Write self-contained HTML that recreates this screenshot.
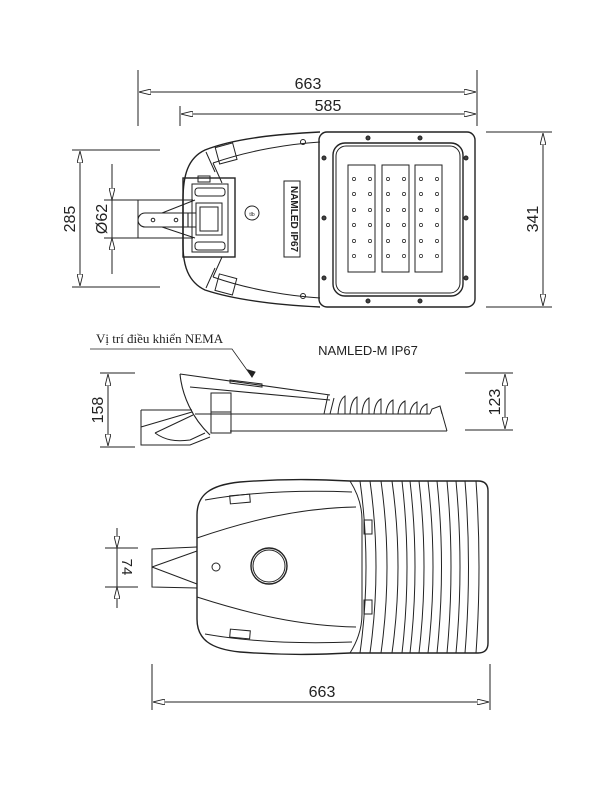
<!DOCTYPE html>
<html><head><meta charset="utf-8"><style>
html,body{margin:0;padding:0;background:#fff;}
svg{display:block;}
text{font-family:"Liberation Sans",sans-serif;fill:#222;}
</style></head><body>
<svg width="600" height="800" viewBox="0 0 600 800" xmlns="http://www.w3.org/2000/svg">
<defs>
<marker id="a" viewBox="0 0 12 6" refX="12" refY="3" markerWidth="12" markerHeight="6" orient="auto-start-reverse" markerUnits="userSpaceOnUse">
<path d="M0,0 L12,3 L0,6 Z" fill="#fff" stroke="#222" stroke-width="0.9"/></marker>
</defs>
<g stroke="#222" stroke-width="1" fill="none">
<line x1="138" y1="70" x2="138" y2="126"/><line x1="180" y1="106" x2="180" y2="126"/><line x1="477" y1="70" x2="477" y2="126"/>
<line x1="139" y1="92" x2="476" y2="92" marker-start="url(#a)" marker-end="url(#a)"/>
<line x1="181" y1="114" x2="476" y2="114" marker-start="url(#a)" marker-end="url(#a)"/>
<line x1="72" y1="150" x2="160" y2="150"/><line x1="72" y1="287" x2="160" y2="287"/>
<line x1="80" y1="151" x2="80" y2="286" marker-start="url(#a)" marker-end="url(#a)"/>
<line x1="104" y1="200" x2="140" y2="200"/><line x1="104" y1="238" x2="140" y2="238"/>
<line x1="112" y1="164" x2="112" y2="200" marker-end="url(#a)"/>
<line x1="112" y1="274" x2="112" y2="238" marker-end="url(#a)"/>
<line x1="112" y1="200" x2="112" y2="238"/>
<line x1="486" y1="132" x2="552" y2="132"/><line x1="486" y1="307" x2="552" y2="307"/>
<line x1="543" y1="133" x2="543" y2="306" marker-start="url(#a)" marker-end="url(#a)"/>
<path d="M320,132 C280,134 235,138 205,150 C188,158 183,175 183,200 L183,245 C183,265 188,282 205,290 C235,300 280,305 320,307" stroke-width="1.4"/>
<path d="M213,163 C250,150 290,144 320,142"/><path d="M213,277 C250,290 290,296 320,298"/>
<path d="M206,152 L215,172 M213,163 L222,183"/><path d="M206,288 L215,268 M213,277 L222,257"/>
<rect x="217" y="145" width="18" height="17" transform="rotate(-15 226 153)"/>
<rect x="217" y="276" width="18" height="17" transform="rotate(15 226 284)"/>
<circle cx="303" cy="142" r="2.5"/><circle cx="303" cy="296" r="2.5"/>
<rect x="319" y="132" width="156" height="175" rx="8" stroke-width="1.4"/>
<rect x="333" y="143" width="130" height="153" rx="12" stroke-width="1.4"/>
<rect x="336" y="146" width="124" height="147" rx="10"/>
<rect x="348" y="165" width="27" height="107"/><rect x="382" y="165" width="27" height="107"/><rect x="415" y="165" width="27" height="107"/>
<g stroke-width="0.7">
<circle cx="354" cy="179" r="1.6"/><circle cx="370" cy="179" r="1.6"/><circle cx="388" cy="179" r="1.6"/><circle cx="404" cy="179" r="1.6"/><circle cx="421" cy="179" r="1.6"/><circle cx="437" cy="179" r="1.6"/>
<circle cx="354" cy="194" r="1.6"/><circle cx="370" cy="194" r="1.6"/><circle cx="388" cy="194" r="1.6"/><circle cx="404" cy="194" r="1.6"/><circle cx="421" cy="194" r="1.6"/><circle cx="437" cy="194" r="1.6"/>
<circle cx="354" cy="210" r="1.6"/><circle cx="370" cy="210" r="1.6"/><circle cx="388" cy="210" r="1.6"/><circle cx="404" cy="210" r="1.6"/><circle cx="421" cy="210" r="1.6"/><circle cx="437" cy="210" r="1.6"/>
<circle cx="354" cy="225" r="1.6"/><circle cx="370" cy="225" r="1.6"/><circle cx="388" cy="225" r="1.6"/><circle cx="404" cy="225" r="1.6"/><circle cx="421" cy="225" r="1.6"/><circle cx="437" cy="225" r="1.6"/>
<circle cx="354" cy="241" r="1.6"/><circle cx="370" cy="241" r="1.6"/><circle cx="388" cy="241" r="1.6"/><circle cx="404" cy="241" r="1.6"/><circle cx="421" cy="241" r="1.6"/><circle cx="437" cy="241" r="1.6"/>
<circle cx="354" cy="256" r="1.6"/><circle cx="370" cy="256" r="1.6"/><circle cx="388" cy="256" r="1.6"/><circle cx="404" cy="256" r="1.6"/><circle cx="421" cy="256" r="1.6"/><circle cx="437" cy="256" r="1.6"/>
</g>
<g fill="#444"><circle cx="368" cy="138" r="2"/><circle cx="420" cy="138" r="2"/><circle cx="368" cy="301" r="2"/><circle cx="420" cy="301" r="2"/>
<circle cx="324" cy="158" r="2"/><circle cx="324" cy="218" r="2"/><circle cx="324" cy="278" r="2"/><circle cx="466" cy="158" r="2"/><circle cx="466" cy="218" r="2"/><circle cx="466" cy="278" r="2"/></g>
<circle cx="252" cy="213" r="7"/>
<rect x="284" y="181" width="16" height="76"/>
<rect x="183" y="178" width="52" height="79" stroke-width="1.4"/>
<rect x="192" y="184" width="36" height="68"/>
<rect x="195" y="188" width="30" height="8" rx="3"/><rect x="195" y="242" width="30" height="8" rx="3"/>
<rect x="196" y="203" width="26" height="32"/><rect x="200" y="207" width="18" height="24"/>
<rect x="198" y="176" width="12" height="6"/>
<path d="M138,200 L193,200 M138,238 L193,238 M138,200 L138,238"/>
<path d="M145,213 L188,213 L188,227 L145,227 A7,7 0 0 1 145,213 Z" stroke-width="1.1"/>
<path d="M162,213 L195,200 M162,227 L195,238 M188,213 L196,213 M188,227 L196,227"/>
<circle cx="153" cy="220" r="1.8"/><circle cx="176" cy="220" r="1.8"/>
<path d="M90,349 L232,349 L252,377" stroke-width="0.8"/>
<path d="M252,377 L248,370 L255,372 Z" fill="#222"/>
<line x1="100" y1="373" x2="135" y2="373"/><line x1="100" y1="447" x2="135" y2="447"/>
<line x1="108" y1="374" x2="108" y2="446" marker-start="url(#a)" marker-end="url(#a)"/>
<line x1="465" y1="373" x2="513" y2="373"/><line x1="465" y1="430" x2="513" y2="430"/>
<line x1="505" y1="374" x2="505" y2="429" marker-start="url(#a)" marker-end="url(#a)"/>
<path d="M180,374 L330,395 M190,387 L330,400" stroke-width="1.1"/>
<path d="M180,374 C182,395 192,418 210,435" stroke-width="1.1"/>
<path d="M230,380 L262,384 L262,387 L230,383 Z"/>
<rect x="211" y="393" width="20" height="40"/><line x1="211" y1="412" x2="231" y2="412"/>
<path d="M195,414 L430,414 M230,431 L447,431" stroke-width="1.1"/>
<path d="M430,414 L432,409 L440,406 L447,431 M440,406 L442,414 M328,395 L324,414 M334,398 L330,414"/>
<path d="M338,414 Q339,400 345,396 L345,414 M350,414 Q351,400 357,397 L357,414 M362,414 Q363,401 369,398 L369,414 M374,414 Q375,402 381,399 L381,414 M386,414 Q387,403 393,400 L393,414 M398,414 Q399,404 405,401 L405,414 M410,414 Q411,405 417,402 L417,414 M420,414 Q421,406 427,404 L427,414"/>
<path d="M141,410 L192,410 M141,410 L141,445 L190,445 L210,437 M141,427 L192,412 M155,433 L193,415 M155,433 C165,440 175,442 190,440 L205,433"/>
<path d="M197,515 C197,495 210,485 240,482 C290,478 330,480 350,481 L478,481 Q488,481 488,491 L488,643 Q488,653 478,653 L350,653 C330,654 290,656 240,652 C210,649 197,639 197,619 Z" stroke-width="1.4"/>
<path d="M197,538 C250,520 300,508 356,507 M197,597 C250,614 300,626 356,627 M205,500 C250,492 300,490 352,492 M205,634 C250,642 300,644 352,642"/>
<rect x="230" y="495" width="20" height="8" transform="rotate(-5 240 499)"/><rect x="230" y="630" width="20" height="8" transform="rotate(5 240 634)"/>
<path d="M350,481 Q362,500 362,520 L362,614 Q362,634 350,653"/>
<path d="M360,481 Q372,567 360,653 M370,481 Q382,567 370,653 M381,481 Q393,567 381,653 M392,481 Q404,567 392,653 M402,481 Q412,567 402,653 M410,481 Q420,567 410,653 M419,481 Q429,567 419,653 M428,481 Q438,567 428,653 M437,481 Q446,567 437,653 M447,481 Q455,567 447,653 M456,481 Q464,567 456,653 M465,481 Q472,567 465,653 M476,481 Q482,567 476,653"/>
<rect x="364" y="520" width="8" height="14"/><rect x="364" y="600" width="8" height="14"/>
<circle cx="269" cy="566" r="18" stroke-width="1.4"/><circle cx="269" cy="566" r="16"/>
<circle cx="216" cy="567" r="4"/>
<path d="M197,547 L152,549 L152,587 L197,588 M152,567 L197,551 M152,567 L197,584"/>
<line x1="105" y1="548" x2="138" y2="548"/><line x1="105" y1="587" x2="138" y2="587"/>
<line x1="117" y1="528" x2="117" y2="548" marker-end="url(#a)"/>
<line x1="117" y1="608" x2="117" y2="587" marker-end="url(#a)"/>
<line x1="117" y1="548" x2="117" y2="587"/>
<line x1="152" y1="664" x2="152" y2="710"/><line x1="490" y1="664" x2="490" y2="710"/>
<line x1="153" y1="702" x2="489" y2="702" marker-start="url(#a)" marker-end="url(#a)"/>
</g>
<text x="308" y="89" font-size="16" text-anchor="middle">663</text>
<text x="328" y="111" font-size="16" text-anchor="middle">585</text>
<text x="75" y="219" font-size="16" text-anchor="middle" transform="rotate(-90 75 219)">285</text>
<text x="107" y="219" font-size="16" text-anchor="middle" transform="rotate(-90 107 219)">Ø62</text>
<text x="538" y="219" font-size="16" text-anchor="middle" transform="rotate(-90 538 219)">341</text>
<text x="291" y="219" font-size="10" font-weight="bold" text-anchor="middle" transform="rotate(90 291 219)">NAMLED IP67</text>
<text x="252" y="216" font-size="5" text-anchor="middle">tlb</text>
<text x="96" y="343" font-size="13" style="font-family:'Liberation Serif',serif">Vị trí điều khiển NEMA</text>
<text x="368" y="355" font-size="13" text-anchor="middle">NAMLED-M IP67</text>
<text x="103" y="410" font-size="16" text-anchor="middle" transform="rotate(-90 103 410)">158</text>
<text x="500" y="402" font-size="16" text-anchor="middle" transform="rotate(-90 500 402)">123</text>
<text x="122" y="567" font-size="15" text-anchor="middle" transform="rotate(90 122 567)">74</text>
<text x="322" y="697" font-size="16" text-anchor="middle">663</text>
</svg>
</body></html>
